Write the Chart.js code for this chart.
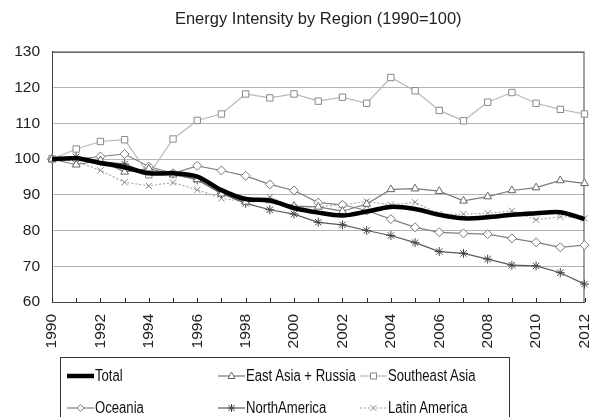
<!DOCTYPE html>
<html>
<head>
<meta charset="utf-8">
<script src="https://cdn.jsdelivr.net/npm/chart.js@4"></script>
<style>
  body { margin: 0; background: #fff; font-family: "Liberation Sans", Arial, sans-serif; }
  #wrap { position: relative; width: 590px; height: 417px; overflow: hidden; }
  #legend { position: absolute; left: 60px; top: 357px; width: 450px; height: 80px; border: 1px solid #333; box-sizing: border-box; }
  .item { position: absolute; height: 20px; display: flex; align-items: center; white-space: nowrap; }
  .item span { font-size: 16px; color: #111; display: inline-block; transform: scaleX(0.82); transform-origin: left center; margin-left: 1px; }
</style>
</head>
<body>
<div id="wrap">
  <canvas id="myChart" width="590" height="417"></canvas>
  <div id="legend"></div>
</div>
<script>
// data
const years = ['1990', '1991', '1992', '1993', '1994', '1995', '1996', '1997', '1998', '1999', '2000', '2001',
  '2002', '2003', '2004', '2005', '2006', '2007', '2008', '2009', '2010', '2011', '2012'];
const total = [100, 100.2, 98.9, 97.7, 96.0, 96.0, 95.1, 91.3, 88.8, 88.4, 86.3, 85.0,
  84.2, 85.3, 86.6, 86.0, 84.4, 83.4, 83.7, 84.4, 84.8, 85.1, 83.2];
const eastAsia = [100, 98.4, 99.6, 96.4, 97.3, 95.6, 94.3, 90.3, 88.0, 88.4, 86.8, 86.6,
  85.4, 87.4, 91.5, 91.7, 91.0, 88.3, 89.5, 91.2, 92.0, 94.0, 93.2];
const southeastAsia = [100, 102.8, 104.9, 105.4, 95.6, 105.6, 110.8, 112.6, 118.2, 117.1, 118.2, 116.2,
  117.3, 115.6, 122.8, 119.1, 113.6, 110.7, 115.9, 118.6, 115.6, 113.9, 112.6];
const oceania = [100, 99.9, 100.7, 101.4, 97.9, 96.0, 98.1, 96.8, 95.3, 92.9, 91.2, 87.8,
  87.2, 85.6, 83.2, 80.9, 79.5, 79.2, 79.0, 77.8, 76.7, 75.3, 75.9];
const northAmerica = [100, 100.6, 99.3, 98.6, 96.0, 95.9, 94.2, 90.4, 87.6, 85.8, 84.6, 82.3,
  81.6, 80.0, 78.6, 76.6, 74.1, 73.6, 72.0, 70.3, 70.1, 68.2, 65.0];
const latinAmerica = [100, 99.4, 96.8, 93.5, 92.5, 93.4, 91.4, 89.0, 88.1, 89.3, 86.5, 86.7,
  87.2, 88.1, 87.2, 87.9, 84.6, 84.6, 84.8, 85.5, 83.0, 83.9, 83.4];
const yTicks = [60, 70, 80, 90, 100, 110, 120, 130];

// series look + legend slot (left, top inside legend box)
const series = [
  { label: 'Total', data: total, color: '#000', width: 4.5, point: false, tension: 0.3, pos: [6, 8] },
  { label: 'East Asia + Russia', data: eastAsia, color: '#7a7a7a', mark: '#666', point: 'triangle', pos: [157, 8] },
  { label: 'Southeast Asia', data: southeastAsia, color: '#b8b8b8', mark: '#888', point: 'rect', pos: [299, 8] },
  { label: 'Oceania', data: oceania, color: '#808080', mark: '#777', point: 'rectRot', pos: [6, 40] },
  { label: 'NorthAmerica', data: northAmerica, color: '#5a5a5a', mark: '#444', point: 'star', pos: [157, 40] },
  { label: 'Latin America', data: latinAmerica, color: '#a8a8a8', mark: '#888', point: 'crossRot', dash: [2, 2], pos: [299, 40] }
];

const frame = {
  id: 'frame',
  beforeDatasetsDraw(chart) {
    const { ctx, chartArea: a, scales: { x } } = chart;
    ctx.save();
    ctx.strokeStyle = '#444';
    ctx.lineWidth = 1;
    ctx.strokeRect(a.left + 0.5, a.top + 0.5, a.right - a.left - 1, a.bottom - a.top);
    ctx.strokeStyle = '#222';
    ctx.beginPath();
    years.forEach((y, i) => {
      const px = Math.round(x.getPixelForValue(i)) + 0.5;
      ctx.moveTo(px, a.bottom);
      ctx.lineTo(px, a.bottom - 4);
    });
    ctx.stroke();
    ctx.restore();
  }
};

new Chart(document.getElementById('myChart'), {
  type: 'line',
  data: {
    labels: years,
    datasets: series.map(s => ({
      label: s.label,
      data: s.data,
      borderColor: s.color,
      borderWidth: s.width || 1.2,
      borderDash: s.dash || [],
      tension: s.tension || 0,
      pointStyle: s.point,
      pointRadius: s.point ? 4.5 : 0,
      pointBorderColor: s.mark,
      pointBackgroundColor: '#fff',
      pointBorderWidth: 1
    }))
  },
  options: {
    responsive: false,
    animation: false,
    layout: { padding: { left: 0, right: 4, top: 0, bottom: 0 } },
    plugins: {
      legend: { display: false },
      tooltip: { enabled: false },
      title: {
        display: true,
        fullSize: false,
        text: 'Energy Intensity by Region (1990=100)',
        color: '#222',
        font: { family: 'Liberation Sans', size: 16.5, weight: 'normal' },
        padding: { top: 10, bottom: 22 }
      }
    },
    scales: {
      x: {
        offset: false,
        grid: { display: false, drawTicks: false },
        border: { color: '#444' },
        ticks: {
          autoSkip: false,
          minRotation: 90,
          maxRotation: 90,
          padding: 12,
          color: '#222',
          font: { family: 'Liberation Sans', size: 15.5 },
          callback: (v, i) => (i % 2 === 0 ? years[i] : '')
        },
        afterFit(scale) {
          scale.height = 115;
          scale.paddingLeft = 0;
          scale.paddingRight = 0;
        }
      },
      y: {
        min: 60,
        max: 130,
        grid: { color: '#b4b4b4', drawTicks: false },
        border: { color: '#333' },
        afterBuildTicks(scale) {
          scale.ticks = yTicks.map(v => ({ value: v }));
        },
        ticks: {
          padding: 12,
          color: '#222',
          font: { family: 'Liberation Sans', size: 15.5 }
        },
        afterFit(scale) {
          scale.width = 52;
          scale.paddingTop = 0;
          scale.paddingBottom = 0;
        }
      }
    }
  },
  plugins: [frame]
});

// legend box
const legend = document.getElementById('legend');
series.forEach(s => {
  const item = document.createElement('div');
  item.className = 'item';
  item.style.left = s.pos[0] + 'px';
  item.style.top = s.pos[1] + 'px';
  const w = 27;
  let mark = '';
  const c = s.mark, m = 13.5;
  if (s.point === 'triangle') mark = `<polygon points="${m},6 ${m - 3.5},12.5 ${m + 3.5},12.5" fill="#fff" stroke="${c}"/>`;
  if (s.point === 'rect') mark = `<rect x="${m - 3}" y="7" width="6" height="6" fill="#fff" stroke="${c}"/>`;
  if (s.point === 'rectRot') mark = `<polygon points="${m},6.5 ${m + 3.5},10 ${m},13.5 ${m - 3.5},10" fill="#fff" stroke="${c}"/>`;
  if (s.point === 'star') mark = `<path d="M${m - 4} 10h8M${m} 6v8M${m - 3} 7l6 6M${m + 3} 7l-6 6" stroke="${c}"/>`;
  if (s.point === 'crossRot') mark = `<path d="M${m - 3} 7l6 6M${m + 3} 7l-6 6" stroke="${c}"/>`;
  const dash = s.dash ? 'stroke-dasharray="2 2"' : '';
  item.innerHTML = `<svg width="${w}" height="20"><line x1="0" y1="10" x2="${w}" y2="10" stroke="${s.color}" stroke-width="${s.width || 1.2}" ${dash}/>${mark}</svg><span>${s.label}</span>`;
  legend.appendChild(item);
});
</script>
</body>
</html>
